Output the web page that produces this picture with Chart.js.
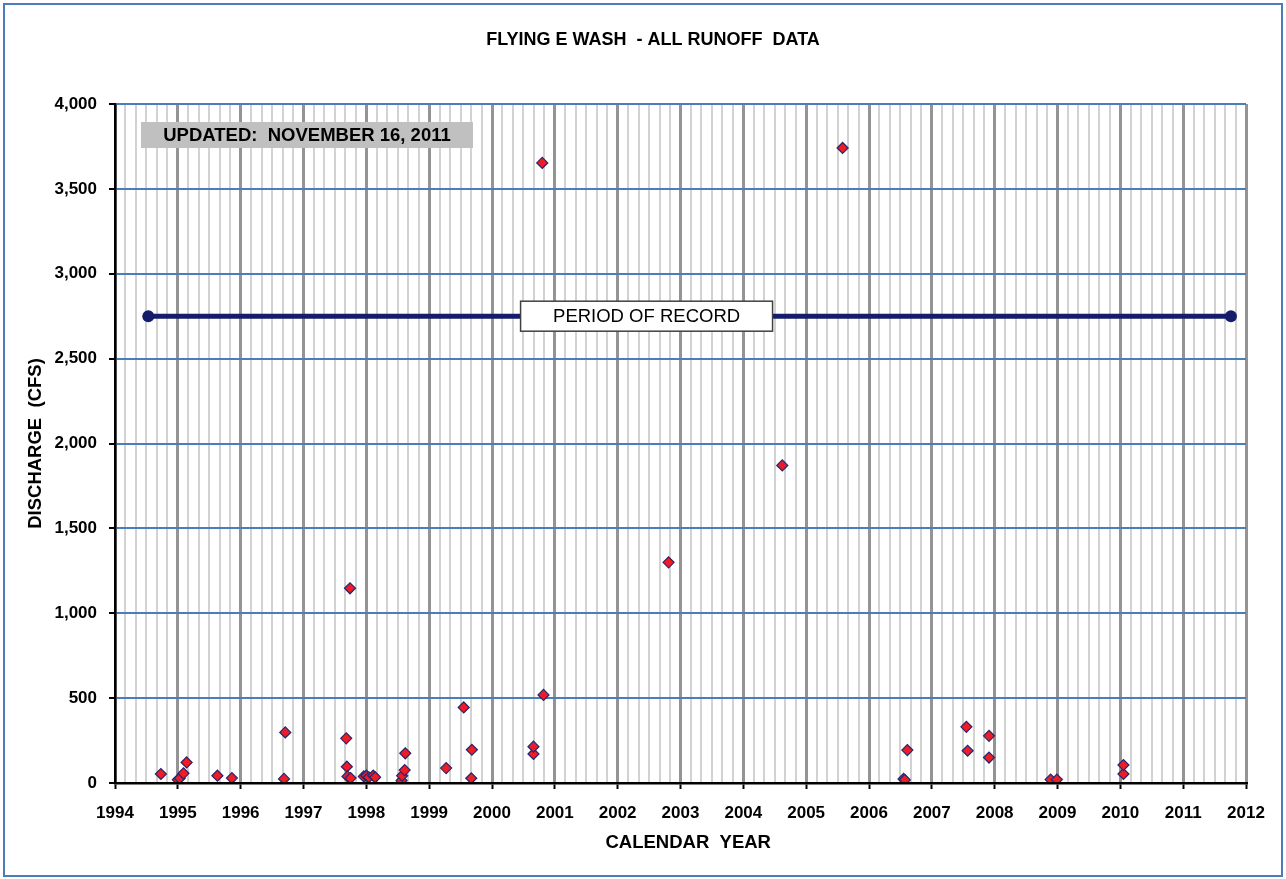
<!DOCTYPE html>
<html>
<head>
<meta charset="utf-8">
<script src="https://cdn.jsdelivr.net/npm/chart.js@4"></script>
<style>
  html, body { margin: 0; padding: 0; background: #fff; }
  #wrap { width: 1286px; height: 879px; position: relative; }
</style>
</head>
<body>
<div id="wrap"><canvas id="c" width="1286" height="879"></canvas></div>
<script>
// ---- data (decimal calendar year, discharge in cfs) ----
const sampleYears = [
  1994.73, 1995.00, 1995.03, 1995.09, 1995.14, 1995.63, 1995.86,
  1996.69, 1996.71,
  1997.68, 1997.69, 1997.70, 1997.74, 1997.75, 1997.96,
  1998.00, 1998.04, 1998.11, 1998.14, 1998.56, 1998.57, 1998.61, 1998.62,
  1999.27, 1999.55, 1999.67, 1999.68,
  2000.66, 2000.66, 2000.80, 2000.82,
  2002.81, 2004.62, 2005.58,
  2006.55, 2006.57, 2006.61,
  2007.55, 2007.57, 2007.91, 2007.91,
  2008.89, 2008.99,
  2010.05, 2010.05
];
const dischargeCfs = [
  53, 19, 28, 57, 121, 43, 29,
  24, 298,
  263, 96, 39, 1147, 29, 39,
  43, 34, 43, 34, 14, 43, 76, 175,
  88, 445, 28, 196,
  171, 214, 3653, 519,
  1300, 1871, 3741,
  24, 18, 194,
  331, 190, 150, 278,
  20, 20,
  53, 106
];
const recordYears = [1994.53, 2011.76];
const recordLevel = [2750, 2750];
const yearTicks = [1994, 1995, 1996, 1997, 1998, 1999, 2000, 2001, 2002, 2003, 2004, 2005, 2006, 2007, 2008, 2009, 2010, 2011, 2012];
const dischargeTicks = [0, 500, 1000, 1500, 2000, 2500, 3000, 3500, 4000];

const titleText = 'FLYING E WASH  - ALL RUNOFF  DATA';
const xTitle = '   CALENDAR  YEAR';
const yTitle = 'DISCHARGE  (CFS)';
const recordLabel = 'PERIOD OF RECORD';
const updatedLabel = 'UPDATED:  NOVEMBER 16, 2011';

const FONT = "'Liberation Sans', Arial, sans-serif";

// ---- build table ----
const points = sampleYears.map((x, i) => ({ x, y: dischargeCfs[i] }));
const recordLine = recordYears.map((x, i) => ({ x, y: recordLevel[i] }));
const minorPerYear = 6;
const isMajor = v => Math.abs(v - Math.round(v)) < 1e-6;

const decorPlugin = {
  id: 'decor',
  beforeDraw(chart) {
    const ctx = chart.ctx;
    ctx.save();
    ctx.fillStyle = '#ffffff';
    ctx.fillRect(0, 0, chart.width, chart.height);
    ctx.strokeStyle = '#4a7ebb';
    ctx.lineWidth = 2;
    ctx.strokeRect(4, 4, chart.width - 8, chart.height - 7);
    // chart title
    ctx.fillStyle = '#000';
    ctx.font = 'bold 18px ' + FONT;
    ctx.textAlign = 'center';
    ctx.textBaseline = 'middle';
    ctx.fillText(titleText, 653, 40);
    ctx.restore();
  },
  afterDatasetsDraw(chart) {
    const ctx = chart.ctx;
    const xs = chart.scales.x, ys = chart.scales.y;
    const area = chart.chartArea;
    ctx.save();
    // period-of-record label box
    const cx = xs.getPixelForValue(2002.46);
    const cy = ys.getPixelForValue(recordLevel[0]);
    const bw = 252, bh = 30;
    ctx.fillStyle = '#ffffff';
    ctx.fillRect(cx - bw / 2, cy - bh / 2, bw, bh);
    ctx.strokeStyle = '#404040';
    ctx.lineWidth = 1.5;
    ctx.strokeRect(cx - bw / 2, cy - bh / 2, bw, bh);
    ctx.fillStyle = '#000';
    ctx.font = '18.5px ' + FONT;
    ctx.textAlign = 'center';
    ctx.textBaseline = 'middle';
    ctx.fillText(recordLabel, cx, cy + 1);
    // updated box
    const ux = area.left + 26, uy = area.top + 18, uw = 332, uh = 26;
    ctx.fillStyle = '#c0c0c0';
    ctx.fillRect(ux, uy, uw, uh);
    ctx.fillStyle = '#000';
    ctx.font = 'bold 18.5px ' + FONT;
    ctx.fillText(updatedLabel, ux + uw / 2, uy + uh / 2 + 1);
    ctx.restore();
  }
};

new Chart(document.getElementById('c'), {
  type: 'scatter',
  data: {
    datasets: [
      {
        type: 'line',
        data: recordLine,
        borderColor: '#151c6a',
        backgroundColor: '#151c6a',
        borderWidth: 5,
        pointRadius: 6,
        pointHoverRadius: 6,
        pointBackgroundColor: '#151c6a',
        pointBorderWidth: 0,
        fill: false,
        order: 2
      },
      {
        data: points,
        pointStyle: 'rectRot',
        pointRadius: 5.5,
        pointHoverRadius: 5.5,
        backgroundColor: '#ee1c25',
        borderColor: '#26266e',
        borderWidth: 1.2,
        order: 1
      }
    ]
  },
  options: {
    responsive: false,
    animation: false,
    layout: { padding: { left: 0, right: 40, top: 104, bottom: 0 } },
    plugins: {
      legend: { display: false },
      tooltip: { enabled: false },
      title: { display: false }
    },
    scales: {
      x: {
        type: 'linear',
        min: yearTicks[0],
        max: yearTicks[yearTicks.length - 1],
        afterBuildTicks(scale) {
          const t = [];
          for (let i = 0; i < yearTicks.length - 1; i++) {
            for (let k = 0; k < minorPerYear; k++) t.push({ value: yearTicks[i] + k / minorPerYear });
          }
          t.push({ value: yearTicks[yearTicks.length - 1] });
          scale.ticks = t;
        },
        afterFit(scale) { scale.height = 96; },
        ticks: {
          autoSkip: false,
          maxRotation: 0,
          padding: 14,
          color: '#000',
          font: { family: FONT, size: 17, weight: 'bold' },
          callback: v => isMajor(v) ? String(Math.round(v)) : ''
        },
        grid: {
          z: -2,
          color: c => isMajor(c.tick.value) ? '#949494' : '#d2d2d2',
          lineWidth: c => isMajor(c.tick.value) ? 3 : 2,
          tickColor: c => isMajor(c.tick.value) ? '#000' : 'rgba(0,0,0,0)',
          tickWidth: 2,
          tickLength: 6
        },
        border: { display: true, color: '#000', width: 2.5, z: 1 },
        title: {
          display: true,
          text: xTitle,
          color: '#000',
          font: { family: FONT, size: 18.5, weight: 'bold' },
          padding: { top: 0, bottom: 25 }
        }
      },
      y: {
        min: dischargeTicks[0],
        max: dischargeTicks[dischargeTicks.length - 1],
        afterBuildTicks(scale) { scale.ticks = dischargeTicks.map(v => ({ value: v })); },
        afterFit(scale) { scale.width = 115; },
        ticks: {
          padding: 12,
          color: '#000',
          font: { family: FONT, size: 17, weight: 'bold' },
          callback: v => Number(v).toLocaleString('en-US')
        },
        grid: {
          z: -1,
          color: '#4a7ebb',
          lineWidth: 2,
          tickColor: '#000',
          tickWidth: 2,
          tickLength: 6
        },
        border: { display: true, color: '#000', width: 2.5, z: 1 },
        title: {
          display: true,
          text: yTitle,
          color: '#000',
          font: { family: FONT, size: 18.5, weight: 'bold' },
          padding: { top: 25, bottom: 0 }
        }
      }
    }
  },
  plugins: [decorPlugin]
});
</script>
</body>
</html>
